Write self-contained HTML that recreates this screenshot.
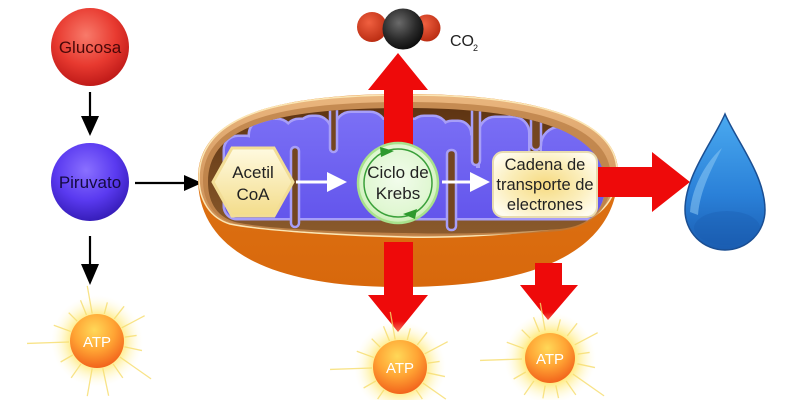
<!DOCTYPE html>
<html><head><meta charset="utf-8"><style>
html,body{margin:0;padding:0;background:#fff;width:800px;height:400px;overflow:hidden;}
svg{display:block;overflow:hidden;}
text{font-family:"Liberation Sans",Arial,sans-serif;}
</style></head><body>
<svg width="800" height="400" viewBox="0 0 800 400" xmlns="http://www.w3.org/2000/svg">
<defs>
<radialGradient id="gRed" cx="0.45" cy="0.35" r="0.7">
<stop offset="0" stop-color="#f87a6a"/><stop offset="0.55" stop-color="#e83a30"/><stop offset="1" stop-color="#b81414"/></radialGradient>
<radialGradient id="gPur" cx="0.45" cy="0.35" r="0.7">
<stop offset="0" stop-color="#8a70ff"/><stop offset="0.55" stop-color="#5a3af0"/><stop offset="1" stop-color="#3018b0"/></radialGradient>
<radialGradient id="gAtp" cx="0.45" cy="0.3" r="0.75">
<stop offset="0" stop-color="#ffd858"/><stop offset="0.5" stop-color="#ffa434"/><stop offset="1" stop-color="#f05a18"/></radialGradient>
<radialGradient id="gGlowL" gradientUnits="userSpaceOnUse" cx="97" cy="341" r="46">
<stop offset="0.5" stop-color="#ffe45a" stop-opacity="0.9"/><stop offset="0.75" stop-color="#fff09a" stop-opacity="0.45"/><stop offset="1" stop-color="#fffbe0" stop-opacity="0"/></radialGradient>
<radialGradient id="gGlowM" gradientUnits="userSpaceOnUse" cx="400" cy="367" r="46">
<stop offset="0.5" stop-color="#ffe45a" stop-opacity="0.9"/><stop offset="0.75" stop-color="#fff09a" stop-opacity="0.45"/><stop offset="1" stop-color="#fffbe0" stop-opacity="0"/></radialGradient>
<radialGradient id="gGlowR" gradientUnits="userSpaceOnUse" cx="550" cy="358" r="46">
<stop offset="0.5" stop-color="#ffe45a" stop-opacity="0.9"/><stop offset="0.75" stop-color="#fff09a" stop-opacity="0.45"/><stop offset="1" stop-color="#fffbe0" stop-opacity="0"/></radialGradient>
<radialGradient id="gBlack" cx="0.4" cy="0.35" r="0.7">
<stop offset="0" stop-color="#6a6a6a"/><stop offset="0.6" stop-color="#2a2a2a"/><stop offset="1" stop-color="#0a0a0a"/></radialGradient>
<radialGradient id="gOx" cx="0.4" cy="0.35" r="0.7">
<stop offset="0" stop-color="#f06040"/><stop offset="1" stop-color="#b82a10"/></radialGradient>
<linearGradient id="gDrop" x1="0" y1="0" x2="0" y2="1">
<stop offset="0" stop-color="#4aaaf0"/><stop offset="0.6" stop-color="#2a80d8"/><stop offset="1" stop-color="#1a5cb0"/></linearGradient>
<linearGradient id="gOrange" x1="0" y1="0" x2="0" y2="1">
<stop offset="0" stop-color="#e07818"/><stop offset="1" stop-color="#d8680c"/></linearGradient>
<linearGradient id="gTan" x1="0" y1="0" x2="0" y2="1">
<stop offset="0" stop-color="#eab67e"/><stop offset="1" stop-color="#c88a50"/></linearGradient>
<linearGradient id="gCav" x1="0" y1="0" x2="0" y2="1">
<stop offset="0" stop-color="#5e3412"/><stop offset="1" stop-color="#8a5a2c"/></linearGradient>
<linearGradient id="gHex" x1="0" y1="0" x2="0" y2="1">
<stop offset="0" stop-color="#fffae0"/><stop offset="1" stop-color="#f3dc8a"/></linearGradient>
<radialGradient id="gBox" cx="0.5" cy="0.5" r="0.6">
<stop offset="0" stop-color="#f6da80"/><stop offset="0.6" stop-color="#fbeebb"/><stop offset="1" stop-color="#fffcee"/></radialGradient>
<radialGradient id="gKrebs" cx="0.5" cy="0.45" r="0.6">
<stop offset="0" stop-color="#f2fcec"/><stop offset="0.7" stop-color="#e0f7d2"/><stop offset="1" stop-color="#c2eca8"/></radialGradient>
<linearGradient id="gPurp" gradientUnits="userSpaceOnUse" x1="0" y1="112" x2="0" y2="220">
<stop offset="0" stop-color="#7b70f5"/><stop offset="1" stop-color="#6355ec"/></linearGradient>
<clipPath id="cav">
<path d="M 208,182 C 208,128 270,108 405,108 C 540,108 605,135 605,185 C 605,210 590,226 560,229 C 500,234 440,234 405,233 C 330,232 260,228 235,222 C 215,216 208,200 208,182 Z"/>
</clipPath>
<g id="purp">
<rect x="225" y="137" width="34" height="81" rx="13"/>
<rect x="250" y="120" width="42" height="98" rx="15"/>
<rect x="285" y="120" width="45" height="40" rx="14"/>
<rect x="298" y="117" width="32" height="101" rx="14"/>
<rect x="336" y="113" width="49" height="105" rx="15"/>
<rect x="325" y="150" width="20" height="68"/>
<rect x="380" y="120" width="35" height="98"/>
<rect x="410" y="117" width="37" height="101" rx="14"/>
<rect x="440" y="122" width="30" height="45" rx="12"/>
<rect x="456" y="135" width="20" height="83" rx="8"/>
<rect x="480" y="118" width="48" height="100" rx="15"/>
<rect x="542" y="128" width="62" height="90" rx="18"/>
<rect x="225" y="168" width="377" height="50" rx="12"/>
</g>
</defs>

<!-- Left column -->
<circle cx="90" cy="47" r="39" fill="url(#gRed)"/>
<text x="90" y="53" font-size="17" fill="#4a0808" text-anchor="middle">Glucosa</text>
<line x1="90" y1="92" x2="90" y2="118" stroke="#000" stroke-width="2.2"/>
<polygon points="81,116 99,116 90,136" fill="#000"/>
<circle cx="90" cy="182" r="39" fill="url(#gPur)"/>
<text x="90" y="188" font-size="17" fill="#140a40" text-anchor="middle">Piruvato</text>
<line x1="90" y1="236" x2="90" y2="266" stroke="#000" stroke-width="2.2"/>
<polygon points="81,264 99,264 90,285" fill="#000"/>
<line x1="135" y1="183" x2="186" y2="183" stroke="#000" stroke-width="2.2"/>
<polygon points="184,175 184,191 202,183" fill="#000"/>

<!-- Left ATP -->
<circle cx="97" cy="341" r="46" fill="url(#gGlowL)"/>
<g transform="translate(97,341)" stroke="#f6dc6a" stroke-width="1.3" stroke-opacity="0.8">
<line x1="28" y1="0" x2="56" y2="0" transform="rotate(-100)"/>
<line x1="28" y1="0" x2="40" y2="0" transform="rotate(-75)"/>
<line x1="28" y1="0" x2="44" y2="0" transform="rotate(-52)"/>
<line x1="28" y1="0" x2="54" y2="0" transform="rotate(-28)"/>
<line x1="28" y1="0" x2="40" y2="0" transform="rotate(-8)"/>
<line x1="28" y1="0" x2="46" y2="0" transform="rotate(12)"/>
<line x1="28" y1="0" x2="66" y2="0" transform="rotate(35)"/>
<line x1="28" y1="0" x2="45" y2="0" transform="rotate(55)"/>
<line x1="28" y1="0" x2="56" y2="0" transform="rotate(78)"/>
<line x1="28" y1="0" x2="56" y2="0" transform="rotate(100)"/>
<line x1="28" y1="0" x2="45" y2="0" transform="rotate(125)"/>
<line x1="28" y1="0" x2="42" y2="0" transform="rotate(150)"/>
<line x1="28" y1="0" x2="70" y2="0" transform="rotate(178)"/>
<line x1="28" y1="0" x2="46" y2="0" transform="rotate(200)"/>
<line x1="28" y1="0" x2="40" y2="0" transform="rotate(225)"/>
<line x1="28" y1="0" x2="44" y2="0" transform="rotate(248)"/>
</g>
<circle cx="97" cy="341" r="27" fill="url(#gAtp)"/>
<text x="97" y="347" font-size="15" fill="#fff" text-anchor="middle">ATP</text>

<!-- Mitochondrion -->
<path d="M 198,178 C 198,118 270,94 405,94 C 545,94 618,122 618,172 C 618,235 565,286 405,287 C 270,288 198,250 198,178 Z" fill="url(#gOrange)"/>
<path d="M 199,178 C 199,118 270,95 405,95 C 545,95 617,122 617,172 C 617,200 600,222 560,228 C 500,236 440,238 405,237 C 330,235 260,230 230,224 C 210,218 199,200 199,178 Z" fill="url(#gTan)" stroke="#fbe6b4" stroke-width="1.5"/>
<path d="M 203,180 C 203,124 270,102 405,102 C 542,102 611,128 611,178 C 611,208 594,226 560,231 C 500,236 440,236 405,235 C 330,234 260,230 233,223 C 212,217 203,200 203,180 Z" fill="#b77a42" opacity="0.7"/>
<path d="M 208,182 C 208,128 270,108 405,108 C 540,108 605,135 605,185 C 605,210 590,226 560,229 C 500,234 440,234 405,233 C 330,232 260,228 235,222 C 215,216 208,200 208,182 Z" fill="url(#gCav)"/>
<g clip-path="url(#cav)">
<use href="#purp" fill="#a79ef8" stroke="#a79ef8" stroke-width="5"/>
<use href="#purp" fill="url(#gPurp)"/>
<g fill="#744620" stroke="#a79ef8" stroke-width="2.5">
<rect x="291" y="147" width="8" height="80" rx="4"/>
<rect x="447" y="150" width="9" height="80" rx="4"/>
<rect x="330" y="100" width="7" height="52" rx="3.5"/>
<rect x="472" y="100" width="8" height="65" rx="4"/>
<rect x="531" y="100" width="10" height="50" rx="5"/>
</g>
</g>

<!-- Red arrows -->
<polygon points="384,150 384,90 368,90 398,53 428,90 413,90 413,150" fill="#ee0a0a"/>
<polygon points="384,242 384,295 368,295 398,332 428,295 413,295 413,242" fill="#ee0a0a"/>
<polygon points="535,263 535,285 520,285 548,320 578,285 562,285 562,263" fill="#ee0a0a"/>
<polygon points="595,167 652,167 652,152 690,182 652,212 652,197 595,197" fill="#ee0a0a"/>

<!-- Acetil CoA -->
<polygon points="213,182 232,148 274,148 293,182 274,216 232,216" fill="url(#gHex)" stroke="#f2dd96" stroke-width="3"/>
<text x="253" y="178" font-size="17" fill="#222" text-anchor="middle">Acetil</text>
<text x="253" y="200" font-size="17" fill="#222" text-anchor="middle">CoA</text>

<!-- white arrows -->
<line x1="296" y1="182" x2="330" y2="182" stroke="#fff" stroke-width="3"/>
<polygon points="327,172 347,182 327,192" fill="#fff"/>
<line x1="442" y1="182" x2="473" y2="182" stroke="#fff" stroke-width="3"/>
<polygon points="470,172 490,182 470,192" fill="#fff"/>

<!-- Krebs -->
<circle cx="398" cy="183" r="40" fill="url(#gKrebs)" stroke="#a8e28c" stroke-width="2.5"/>
<circle cx="398" cy="183" r="34" fill="none" stroke="#3aa03a" stroke-width="1.5"/>
<polygon points="380,147 394,151 381,157" fill="#2e9a2e"/>
<polygon points="417,209 403,214 415,219" fill="#2e9a2e"/>
<text x="398" y="178" font-size="17" fill="#222" text-anchor="middle">Ciclo de</text>
<text x="398" y="199" font-size="17" fill="#222" text-anchor="middle">Krebs</text>

<!-- Cadena -->
<rect x="493" y="152" width="104" height="65" rx="10" fill="url(#gBox)" stroke="#e8dcb0" stroke-width="2"/>
<text x="545" y="170" font-size="16.5" fill="#222" text-anchor="middle">Cadena de</text>
<text x="545" y="190" font-size="16.5" fill="#222" text-anchor="middle">transporte de</text>
<text x="545" y="210" font-size="16.5" fill="#222" text-anchor="middle">electrones</text>

<!-- Middle ATP (glow truncated at bottom edge) -->
<path d="M 368,400 A 46 46 0 1 1 432,400 Z" fill="url(#gGlowM)"/>
<g transform="translate(400,367)" stroke="#f6dc6a" stroke-width="1.3" stroke-opacity="0.8">
<line x1="28" y1="0" x2="56" y2="0" transform="rotate(-100)"/>
<line x1="28" y1="0" x2="40" y2="0" transform="rotate(-75)"/>
<line x1="28" y1="0" x2="44" y2="0" transform="rotate(-52)"/>
<line x1="28" y1="0" x2="54" y2="0" transform="rotate(-28)"/>
<line x1="28" y1="0" x2="40" y2="0" transform="rotate(-8)"/>
<line x1="28" y1="0" x2="46" y2="0" transform="rotate(12)"/>
<line x1="28" y1="0" x2="56" y2="0" transform="rotate(35)"/>
<line x1="28" y1="0" x2="39" y2="0" transform="rotate(55)"/>
<line x1="28" y1="0" x2="39" y2="0" transform="rotate(125)"/>
<line x1="28" y1="0" x2="42" y2="0" transform="rotate(150)"/>
<line x1="28" y1="0" x2="70" y2="0" transform="rotate(178)"/>
<line x1="28" y1="0" x2="46" y2="0" transform="rotate(200)"/>
<line x1="28" y1="0" x2="40" y2="0" transform="rotate(225)"/>
<line x1="28" y1="0" x2="44" y2="0" transform="rotate(248)"/>
</g>
<circle cx="400" cy="367" r="27" fill="url(#gAtp)"/>
<text x="400" y="373" font-size="15" fill="#fff" text-anchor="middle">ATP</text>

<!-- Right ATP -->
<path d="M 531,400 A 46 46 0 1 1 569,400 Z" fill="url(#gGlowR)"/>
<g transform="translate(550,358)" stroke="#f6dc6a" stroke-width="1.3" stroke-opacity="0.8">
<line x1="28" y1="0" x2="56" y2="0" transform="rotate(-100)"/>
<line x1="28" y1="0" x2="40" y2="0" transform="rotate(-75)"/>
<line x1="28" y1="0" x2="44" y2="0" transform="rotate(-52)"/>
<line x1="28" y1="0" x2="54" y2="0" transform="rotate(-28)"/>
<line x1="28" y1="0" x2="40" y2="0" transform="rotate(-8)"/>
<line x1="28" y1="0" x2="46" y2="0" transform="rotate(12)"/>
<line x1="28" y1="0" x2="66" y2="0" transform="rotate(35)"/>
<line x1="28" y1="0" x2="45" y2="0" transform="rotate(55)"/>
<line x1="28" y1="0" x2="41" y2="0" transform="rotate(78)"/>
<line x1="28" y1="0" x2="41" y2="0" transform="rotate(100)"/>
<line x1="28" y1="0" x2="45" y2="0" transform="rotate(125)"/>
<line x1="28" y1="0" x2="42" y2="0" transform="rotate(150)"/>
<line x1="28" y1="0" x2="70" y2="0" transform="rotate(178)"/>
<line x1="28" y1="0" x2="46" y2="0" transform="rotate(200)"/>
<line x1="28" y1="0" x2="40" y2="0" transform="rotate(225)"/>
<line x1="28" y1="0" x2="44" y2="0" transform="rotate(248)"/>
</g>
<circle cx="550" cy="358" r="25" fill="url(#gAtp)"/>
<text x="550" y="364" font-size="15" fill="#fff" text-anchor="middle">ATP</text>

<!-- CO2 -->
<circle cx="372" cy="27" r="15" fill="url(#gOx)"/>
<circle cx="427" cy="28" r="13.5" fill="url(#gOx)"/>
<circle cx="403" cy="29" r="20.5" fill="url(#gBlack)"/>
<text x="450" y="46" font-size="16" fill="#222">CO</text>
<text x="473" y="51" font-size="9" fill="#222">2</text>

<!-- Water drop -->
<path d="M725,114 C736,140 765,175 765,210 A40,40 0 0 1 685,210 C685,175 714,140 725,114 Z" fill="url(#gDrop)" stroke="#1a4e92" stroke-width="1.5"/>
<path d="M690,212 C692,185 708,160 722,148 C712,168 700,190 698,215 Z" fill="#8cc8f4" opacity="0.55"/>
<ellipse cx="727" cy="228" rx="33" ry="17" fill="#1a5cb0" opacity="0.35"/>
</svg>
</body></html>
